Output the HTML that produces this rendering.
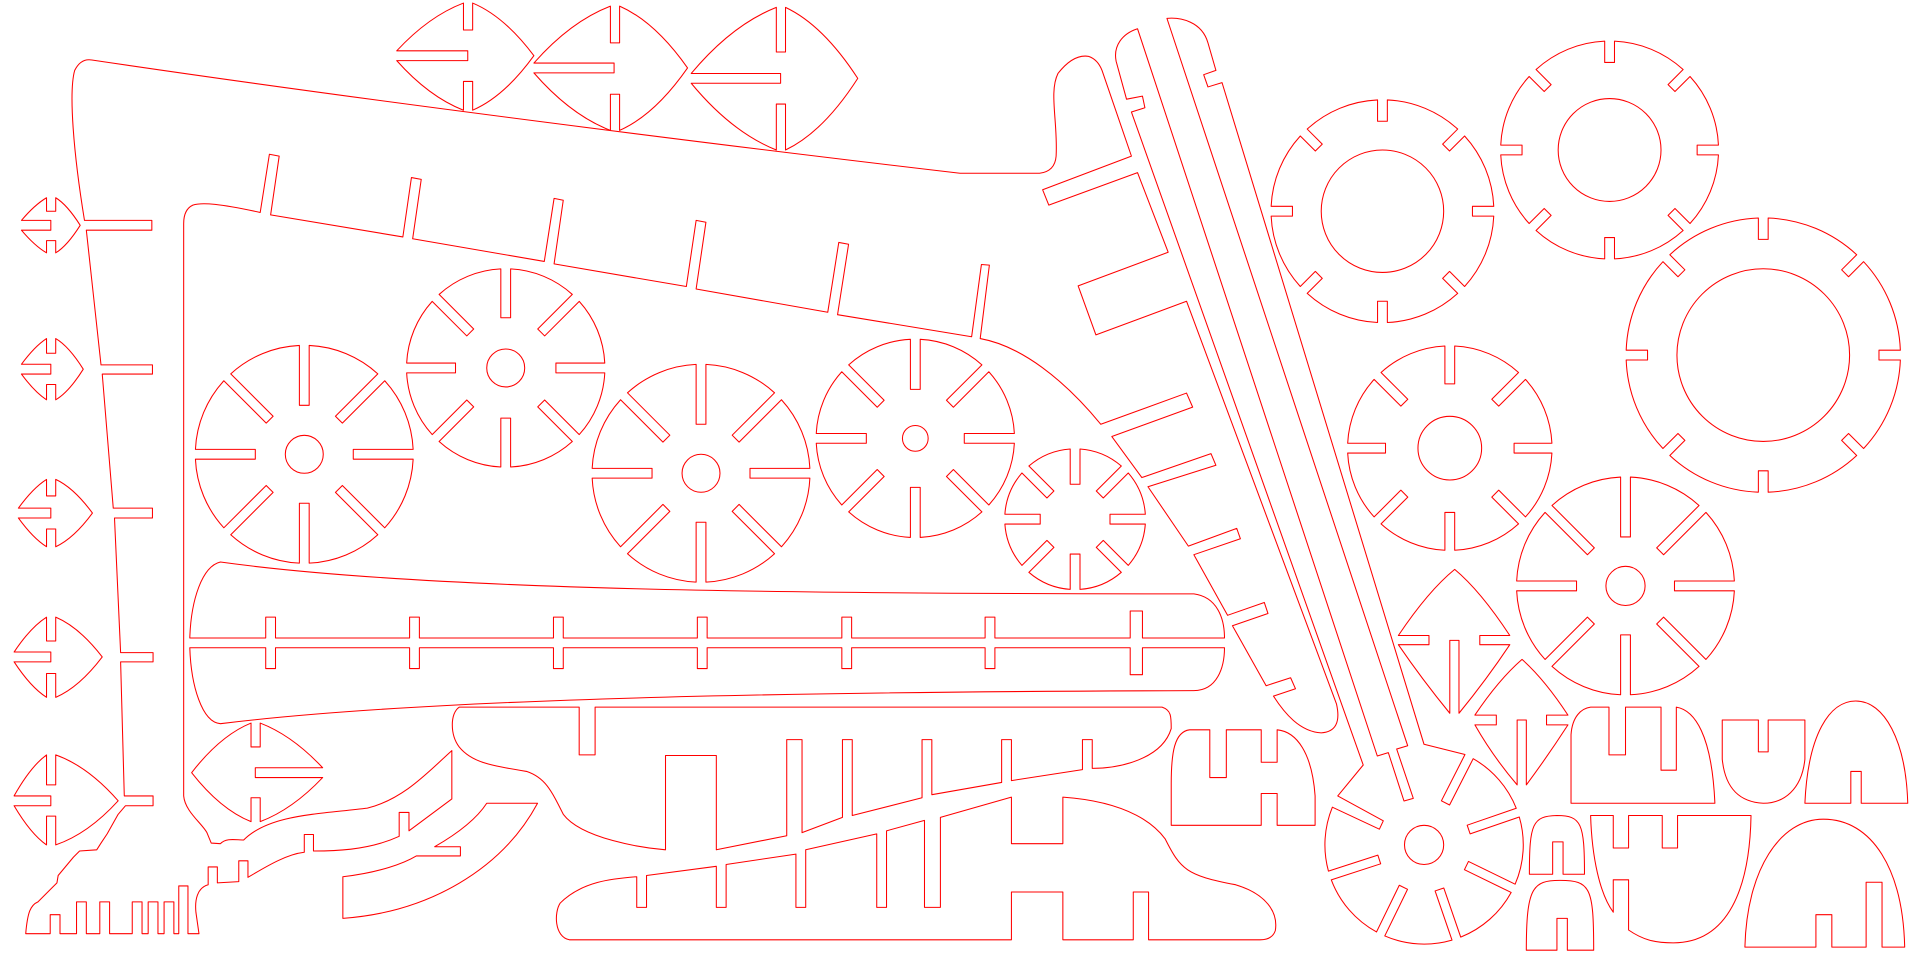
<!DOCTYPE html>
<html><head><meta charset="utf-8"><style>
html,body{margin:0;padding:0;background:#fff;}
svg{display:block;}
svg path,svg circle{fill:none;stroke:#ff0000;stroke-width:1.7;stroke-linejoin:round;}
</style></head><body>
<svg id="s" width="1920" height="960" viewBox="0 0 3136 1568" xmlns="http://www.w3.org/2000/svg">
<!-- big frame -->
<path d="M150,98 C600,165 1200,240 1568,283 L1698,283 Q1723,280 1725,255 C1728,200 1713,150 1728,120 Q1753,88 1778,92 Q1793,97 1800,115 L1848,255 L1703,310 L1713,335 L1858,282 L1908,412 L1761,467 L1790,547 L1938,492 L2183,1150 Q2193,1195 2158,1197 C2123,1195 2098,1165 2080,1137 L2116,1125 L2108,1107 L2068,1120 L2013,1022 L2071,1002 L2065,984 L2005,1005 L1950,906 L2026,880 L2020,863 L1941,892 L1875,795 L1986,760 L1978,741 L1865,780 L1816,713 L1948,665 L1938,642 L1798,693 C1738,620 1668,565 1601,553 L1616,433 L1603,432 L1587,550 L1368,514 L1386,399 L1370,396 L1352,510 L1137,472 L1153,363 L1137,360 L1121,468 L905,431 L920,327 L905,324 L889,427 L674,390 L688,293 L672,290 L658,387 L442,351 L456,255 L440,252 L425,347 C360,333 330,330 315,335 Q300,342 300,365 L300,1300 C302,1325 330,1345 338,1360 L345,1377 L360,1378 C370,1368 385,1372 398,1372 C440,1330 520,1330 600,1320 C660,1305 700,1260 738,1226 L738,1305 L668,1357 L668,1327 L652,1327 L652,1366 C600,1390 540,1390 512,1390 L512,1363 L497,1363 L497,1392 C470,1395 440,1412 405,1433 L405,1406 L390,1406 L390,1440 L355,1442 L355,1416 L340,1416 L340,1445 C322,1450 318,1470 320,1490 L325,1525 L307,1525 L307,1447 L292,1447 L292,1525 L284,1525 L284,1473 L268,1473 L268,1525 L258,1525 L258,1473 L242,1473 L242,1525 L232,1525 L232,1473 L216,1473 L216,1525 L179,1525 L179,1473 L163,1473 L163,1525 L141,1525 L141,1473 L125,1473 L125,1525 L98,1525 L98,1494 L82,1494 L82,1525 L42,1525 C45,1490 50,1478 62,1473 L93,1442 L95,1430 L120,1400 L130,1390 L158,1388 L165,1377 L175,1362 L193,1330 L205,1316 L250,1316 L250,1300 L203,1300 L197,1081 L250,1081 L250,1066 L197,1066 L187,846 L249,846 L249,830 L185,830 L167,611 L249,611 L249,596 L165,596 L141,376 L248,376 L248,360 L138,360 C120,250 112,150 122,115 Q132,95 150,98 Z"/>
<!-- ruler top -->
<path d="M310,1042 C312,980 330,925 360,918 C700,965 1300,970 1950,970 C1988,975 2000,1010 2000,1042 L1866,1042 L1866,998 L1846,998 L1846,1042 L1625,1042 L1625,1008 L1609,1008 L1609,1042 L1391,1042 L1391,1008 L1375,1008 L1375,1042 L1155,1042 L1155,1008 L1139,1008 L1139,1042 L920,1042 L920,1008 L904,1008 L904,1042 L685,1042 L685,1008 L669,1008 L669,1042 L450,1042 L450,1008 L434,1008 L434,1042 Z"/>
<path d="M310,1058 L434,1058 L434,1092 L450,1092 L450,1058 L669,1058 L669,1092 L685,1092 L685,1058 L904,1058 L904,1092 L920,1092 L920,1058 L1139,1058 L1139,1092 L1155,1092 L1155,1058 L1375,1058 L1375,1092 L1391,1092 L1391,1058 L1609,1058 L1609,1092 L1625,1092 L1625,1058 L1846,1058 L1846,1102 L1866,1102 L1866,1058 L2000,1058 C2000,1090 1988,1128 1950,1128 C1300,1130 700,1140 360,1182 C330,1180 312,1120 310,1058 Z"/>
<!-- wing -->
<path d="M560,1432 C620,1425 660,1410 680,1398 L752,1398 L752,1383 L710,1383 C750,1360 780,1335 795,1312 L878,1312 C820,1420 700,1490 560,1500 Z"/>
<!-- bottom middle piece -->
<path d="M750,1155 L946,1155 L946,1233 L972,1233 L972,1155 L1898,1155 C1913,1160 1913,1170 1913,1190 C1898,1240 1828,1255 1784,1255 L1784,1208 L1768,1208 L1768,1257 L1652,1275 L1652,1208 L1636,1208 L1636,1278 L1522,1298 L1522,1208 L1506,1208 L1506,1303 L1392,1332 L1392,1208 L1376,1208 L1376,1335 L1310,1360 L1310,1208 L1285,1208 L1285,1365 L1170,1388 L1170,1234 L1087,1234 L1087,1388 C1050,1385 950,1370 920,1330 C900,1290 890,1270 860,1260 C800,1250 770,1245 750,1220 C735,1200 735,1165 750,1155 Z"/>
<!-- bottom long piece -->
<path d="M930,1535 C905,1530 905,1490 915,1475 C950,1440 1000,1435 1040,1432 L1040,1482 L1056,1482 L1056,1430 L1170,1415 L1170,1482 L1186,1482 L1186,1412 L1300,1395 L1300,1482 L1316,1482 L1316,1388 L1432,1362 L1432,1482 L1448,1482 L1448,1357 L1510,1340 L1510,1482 L1536,1482 L1536,1335 L1652,1302 L1652,1378 L1736,1378 L1736,1302 C1848,1310 1888,1350 1903,1370 C1928,1420 1938,1430 2018,1445 C2068,1460 2088,1490 2083,1520 Q2078,1535 2058,1535 L1876,1535 L1876,1457 L1851,1457 L1851,1535 L1736,1535 L1736,1457 L1652,1457 L1652,1535 Z"/>
<g transform="translate(1568,0)">
<path d="M800,1165 L800,1046 L815,1046 L815,1165 Q860,1110 898,1053 L849,1053 L849,1038 L898,1038 Q850,965 808,930 Q765,965 716,1038 L766,1038 L766,1053 L716,1053 Q755,1110 800,1165 Z"/>
<path d="M910,1282 L910,1176 L925,1176 L925,1282 Q960,1235 993,1184 L958,1184 L958,1168 L993,1168 Q955,1110 918,1077 Q880,1110 841,1168 L876,1168 L876,1184 L841,1184 Q870,1235 910,1282 Z"/>
<path d="M345,1348 L492,1348 L492,1296 L518,1296 L518,1348 L580,1348 L580,1300 C575,1230 550,1195 518,1192 L518,1245 L492,1245 L492,1192 L435,1192 L435,1270 L408,1270 L408,1192 L375,1192 C350,1195 345,1230 345,1280 Z"/>
<path d="M998,1312 L998,1200 C1000,1170 1015,1157 1030,1155 L1060,1155 L1060,1233 L1087,1233 L1087,1155 L1145,1155 L1145,1258 L1170,1258 L1170,1155 C1200,1160 1228,1200 1233,1312 Z"/>
<path d="M1245,1176 L1304,1176 L1304,1228 L1320,1228 L1320,1176 L1380,1176 L1380,1240 C1375,1290 1345,1312 1312,1312 C1275,1310 1250,1290 1245,1240 Z"/>
<path d="M1380,1312 C1385,1200 1420,1145 1463,1145 C1510,1145 1545,1210 1548,1312 L1472,1312 L1472,1260 L1455,1260 L1455,1312 Z"/>
<path d="M930,1428 C930,1345 935,1333 975,1332 C1015,1332 1020,1345 1020,1428 L985,1428 L985,1375 L968,1375 L968,1428 Z"/>
<path d="M925,1552 C925,1450 935,1438 980,1438 C1030,1438 1035,1450 1035,1552 L992,1552 L992,1500 L975,1500 L975,1552 Z"/>
<path d="M1030,1332 L1067,1332 L1067,1385 L1092,1385 L1092,1332 L1147,1332 L1147,1385 L1172,1385 L1172,1332 L1292,1332 C1290,1450 1255,1540 1165,1540 C1135,1540 1115,1535 1092,1519 L1092,1437 L1067,1437 L1067,1490 C1045,1460 1032,1400 1030,1332 Z"/>
<path d="M1282,1547 C1285,1420 1340,1338 1410,1338 C1490,1338 1540,1420 1543,1547 L1506,1547 L1506,1441 L1480,1441 L1480,1547 L1424,1547 L1424,1494 L1398,1494 L1398,1547 Z"/>
<path id="crank" d=""/>
</g>
<g id="gen"></g>
</svg>
<script>
(function(){
var f=function(v){return v.toFixed(1)};
var pt=function(p){return f(p[0])+","+f(p[1])};
var out="";
function slots(cx,cy,R,L,w,a){var r=a*Math.PI/180,ux=Math.cos(r),uy=Math.sin(r),nx=-uy,ny=ux,h=w/2,s=Math.sqrt(R*R-h*h),ri=R-L;
return [[cx+s*ux-h*nx,cy+s*uy-h*ny],[cx+ri*ux-h*nx,cy+ri*uy-h*ny],[cx+ri*ux+h*nx,cy+ri*uy+h*ny],[cx+s*ux+h*nx,cy+s*uy+h*ny]];}
function gear(cx,cy,R,hole,L,w){var ps=[];for(var a=0;a<360;a+=45)ps.push(slots(cx,cy,R,L,w,a));
var d="M"+pt(ps[ps.length-1][3]);ps.forEach(function(p){d+=" A"+R+","+R+" 0 0 1 "+pt(p[0])+" L"+pt(p[1])+" L"+pt(p[2])+" L"+pt(p[3]);});
out+='<path d="'+d+' Z"/>';if(hole)out+='<circle cx="'+cx+'" cy="'+cy+'" r="'+hole+'"/>';}
function dH(xl,xr,T,B,cx,ys,xEnd,tEnd,bStart,tr){var a=cx-7.5,b=cx+7.5;
var d="M"+a+","+T+" L"+a+","+tEnd+" L"+b+","+tEnd+" L"+b+","+T+" Q"+f(cx+(xr-cx)*.55)+","+f(T+(ys-T)*.25)+" "+xr+","+ys+" Q"+f(cx+(xr-cx)*.55)+","+f(B-(B-ys)*.25)+" "+b+","+B+" L"+b+","+bStart+" L"+a+","+bStart+" L"+a+","+B+" Q"+f(cx-(cx-xl)*.55)+","+f(B-(B-ys)*.25)+" "+xl+","+(ys+8)+" L"+xEnd+","+(ys+8)+" L"+xEnd+","+(ys-8)+" L"+xl+","+(ys-8)+" Q"+f(cx-(cx-xl)*.55)+","+f(T+(ys-T)*.25)+" "+a+","+T+" Z";
out+='<path d="'+d+'"'+(tr?' transform="'+tr+'"':'')+'/>';}
[[648,872,5,180,764.5,91,764,49,133],[872,1123,10,213,1004.5,111,1003,70,154],[1129,1401,12,245,1275.5,128,1275,85,170],
[35,131,323,413,83.5,368,83,345,393],[35,136,553,653,83.5,603,83,577,628],[30,151,783,893,83.5,838,83,810,864],[23,167,1008,1139,83.5,1073,83,1047,1100],[23,193,1233,1380,83.5,1308,83,1282,1333]].forEach(function(x){dH.apply(null,x);});
dH(308,522,1181,1342,417.5,1262,418,1220,1303,"translate(835,0) scale(-1,1)");
gear(497,742,178,31,98,16);gear(826,601,162,31,80,16);gear(1145,773,178,31,98,16);gear(1495,716,162,21,82,16);gear(1756,848,115,0,58,16);
gear(2258,345,182,100,35,16);gear(2629,245,178,84,35,16);gear(2880,580,224,141,35,16);gear(2368,732,167,52,62,16);gear(2655,957,178,32,98,16);
// crank gear with bars (right-half coords)
var cx=758,cy=1380,R=162,L=85,w=15,h=w/2;
function sl2(a){var r=a*Math.PI/180,ux=Math.cos(r),uy=Math.sin(r),nx=-uy,ny=ux,s=Math.sqrt(R*R-h*h),ri=R-L;
return [[cx+s*ux+h*nx,cy+s*uy+h*ny],[cx+ri*ux+h*nx,cy+ri*uy+h*ny],[cx+ri*ux-h*nx,cy+ri*uy-h*ny],[cx+s*ux-h*nx,cy+s*uy-h*ny]];}
var d="M658.6,1249.5 L617,1300";var first=true;
[205,162,116,71,26,-19,-63].forEach(function(a){var p=sl2(a);if(first){d+=" L"+pt(p[1]);first=false;}else{d+=" A"+R+","+R+" 0 0 0 "+pt(p[0])+" L"+pt(p[1]);}d+=" L"+pt(p[2])+" L"+pt(p[3]);});
d+=" L757.9,1215.7 L428,135 L405,142 L398,122 L418,115 L405,70 C395,35 360,28 338,30 L731.2,1218 L713.2,1223.4 L740.4,1304 L725.2,1308.3 L699.6,1229.3 L681.6,1234.8 L290,47 C265,55 250,75 255,100 L272,162 L298,157 L302,176 L280,183 L658.6,1249.5 Z";
document.getElementById("crank").setAttribute("d",d);
out+='<circle cx="'+(cx+1568)+'" cy="'+cy+'" r="32"/>';
document.getElementById("gen").innerHTML=out;
})();
</script>
</body></html>
